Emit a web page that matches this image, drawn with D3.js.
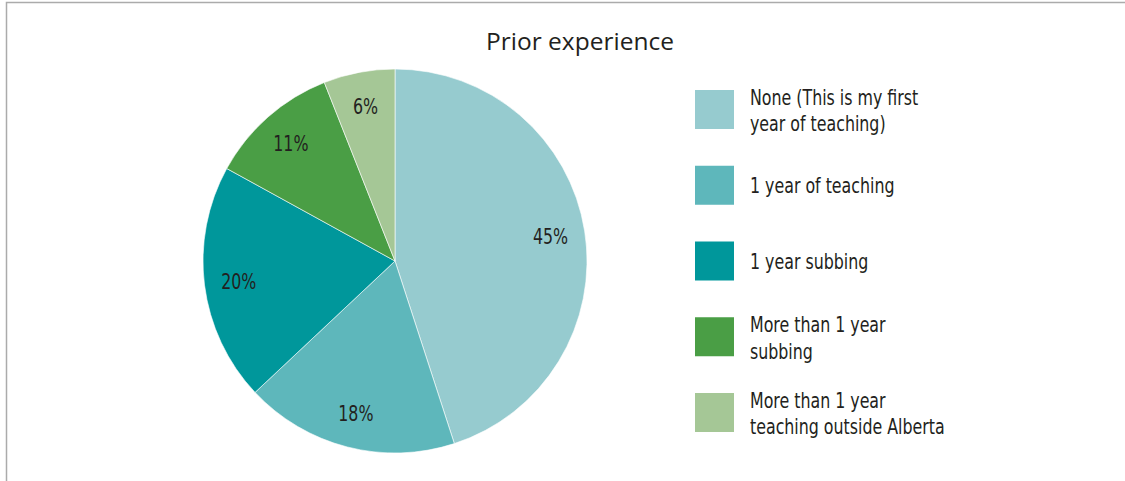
<!DOCTYPE html>
<html>
<head>
    <title>Prior experience</title>
    <script src="https://d3js.org/d3.v7.min.js"></script>
    <style>
        body, html {
            margin: 0;
            padding: 0;
            width: 100%;
            height: 100%;
            overflow: hidden;
            background: #fff;
        }

        svg {
            display: block;
        }

        .title {
            font-family: "Open Sans", "Noto Sans", sans-serif;
            font-size: 24.5px;
            fill: #231f20;
            text-anchor: middle;
        }

        .pct, .legend-text {
            font-family: "Liberation Sans Narrow", "DejaVu Sans Condensed", sans-serif;
            font-stretch: condensed;
            fill: #231f20;
        }

        .pct {
            font-size: 22px;
            text-anchor: middle;
        }

        .legend-text {
            font-size: 22px;
        }
    </style>
</head>
<body>
    <svg id="chart" width="1125" height="481"></svg>

    <script>
        // Data
        const categories = [
            "None (This is my first|year of teaching)",
            "1 year of teaching",
            "1 year subbing",
            "More than 1 year|subbing",
            "More than 1 year|teaching outside Alberta"
        ];
        const values = [45, 18, 20, 11, 6];
        const colors = ["#96cbcf", "#5eb7bb", "#00979b", "#4a9e45", "#a5c796"];

        const width = 1125;
        const height = 481;
        const squeeze = 0.8; // narrow the condensed font to match the original face
        const svg = d3.select("#chart");

        // frame lines (top and left)
        svg.append("path")
            .attr("d", `M6.5,${height} L6.5,2.5 L${width},2.5`)
            .attr("fill", "none")
            .attr("stroke", "#ababab")
            .attr("stroke-width", 1.5);

        svg.append("text")
            .attr("class", "title")
            .attr("x", 580)
            .attr("y", 50)
            .text("Prior experience");

        const data = categories.map((c, i) => ({ label: c, value: values[i], color: colors[i] }));

        const radius = 192;
        const g = svg.append("g")
            .attr("transform", `translate(395,261)`);

        const pie = d3.pie()
            .value(d => d.value)
            .sort(null);

        const arc = d3.arc()
            .innerRadius(0)
            .outerRadius(radius);

        const labelArc = d3.arc()
            .innerRadius(radius * 0.82)
            .outerRadius(radius * 0.82);

        const arcs = pie(data);

        g.selectAll("path")
            .data(arcs)
            .enter().append("path")
            .attr("d", arc)
            .attr("fill", d => d.data.color)
            .attr("stroke", "#fff")
            .attr("stroke-width", 0.6);

        g.selectAll(".pct")
            .data(arcs)
            .enter().append("text")
            .attr("class", "pct")
            .attr("transform", d => `translate(${labelArc.centroid(d)}) scale(${squeeze},1)`)
            .attr("dy", "0.36em")
            .text(d => d.data.value + "%");

        // Legend
        const legendY = d3.scaleLinear()
            .domain([0, categories.length - 1])
            .range([109.5, 412.5]);

        const items = svg.append("g").selectAll(".legend-item")
            .data(data)
            .enter().append("g")
            .attr("class", "legend-item")
            .attr("transform", (d, i) => `translate(695,${legendY(i)})`);

        items.append("rect")
            .attr("x", 0)
            .attr("y", -19.5)
            .attr("width", 39)
            .attr("height", 39)
            .attr("fill", d => d.color);

        items.each(function(d) {
            const lines = d.label.split("|");
            const t = d3.select(this).append("text")
                .attr("class", "legend-text")
                .attr("transform", `translate(55,0) scale(${squeeze},1)`);
            const start = lines.length === 1 ? 8 : -4.5;
            lines.forEach((line, k) => {
                t.append("tspan")
                    .attr("x", 0)
                    .attr("y", start + k * 26.5)
                    .text(line);
            });
        });
    </script>
</body>
</html>
